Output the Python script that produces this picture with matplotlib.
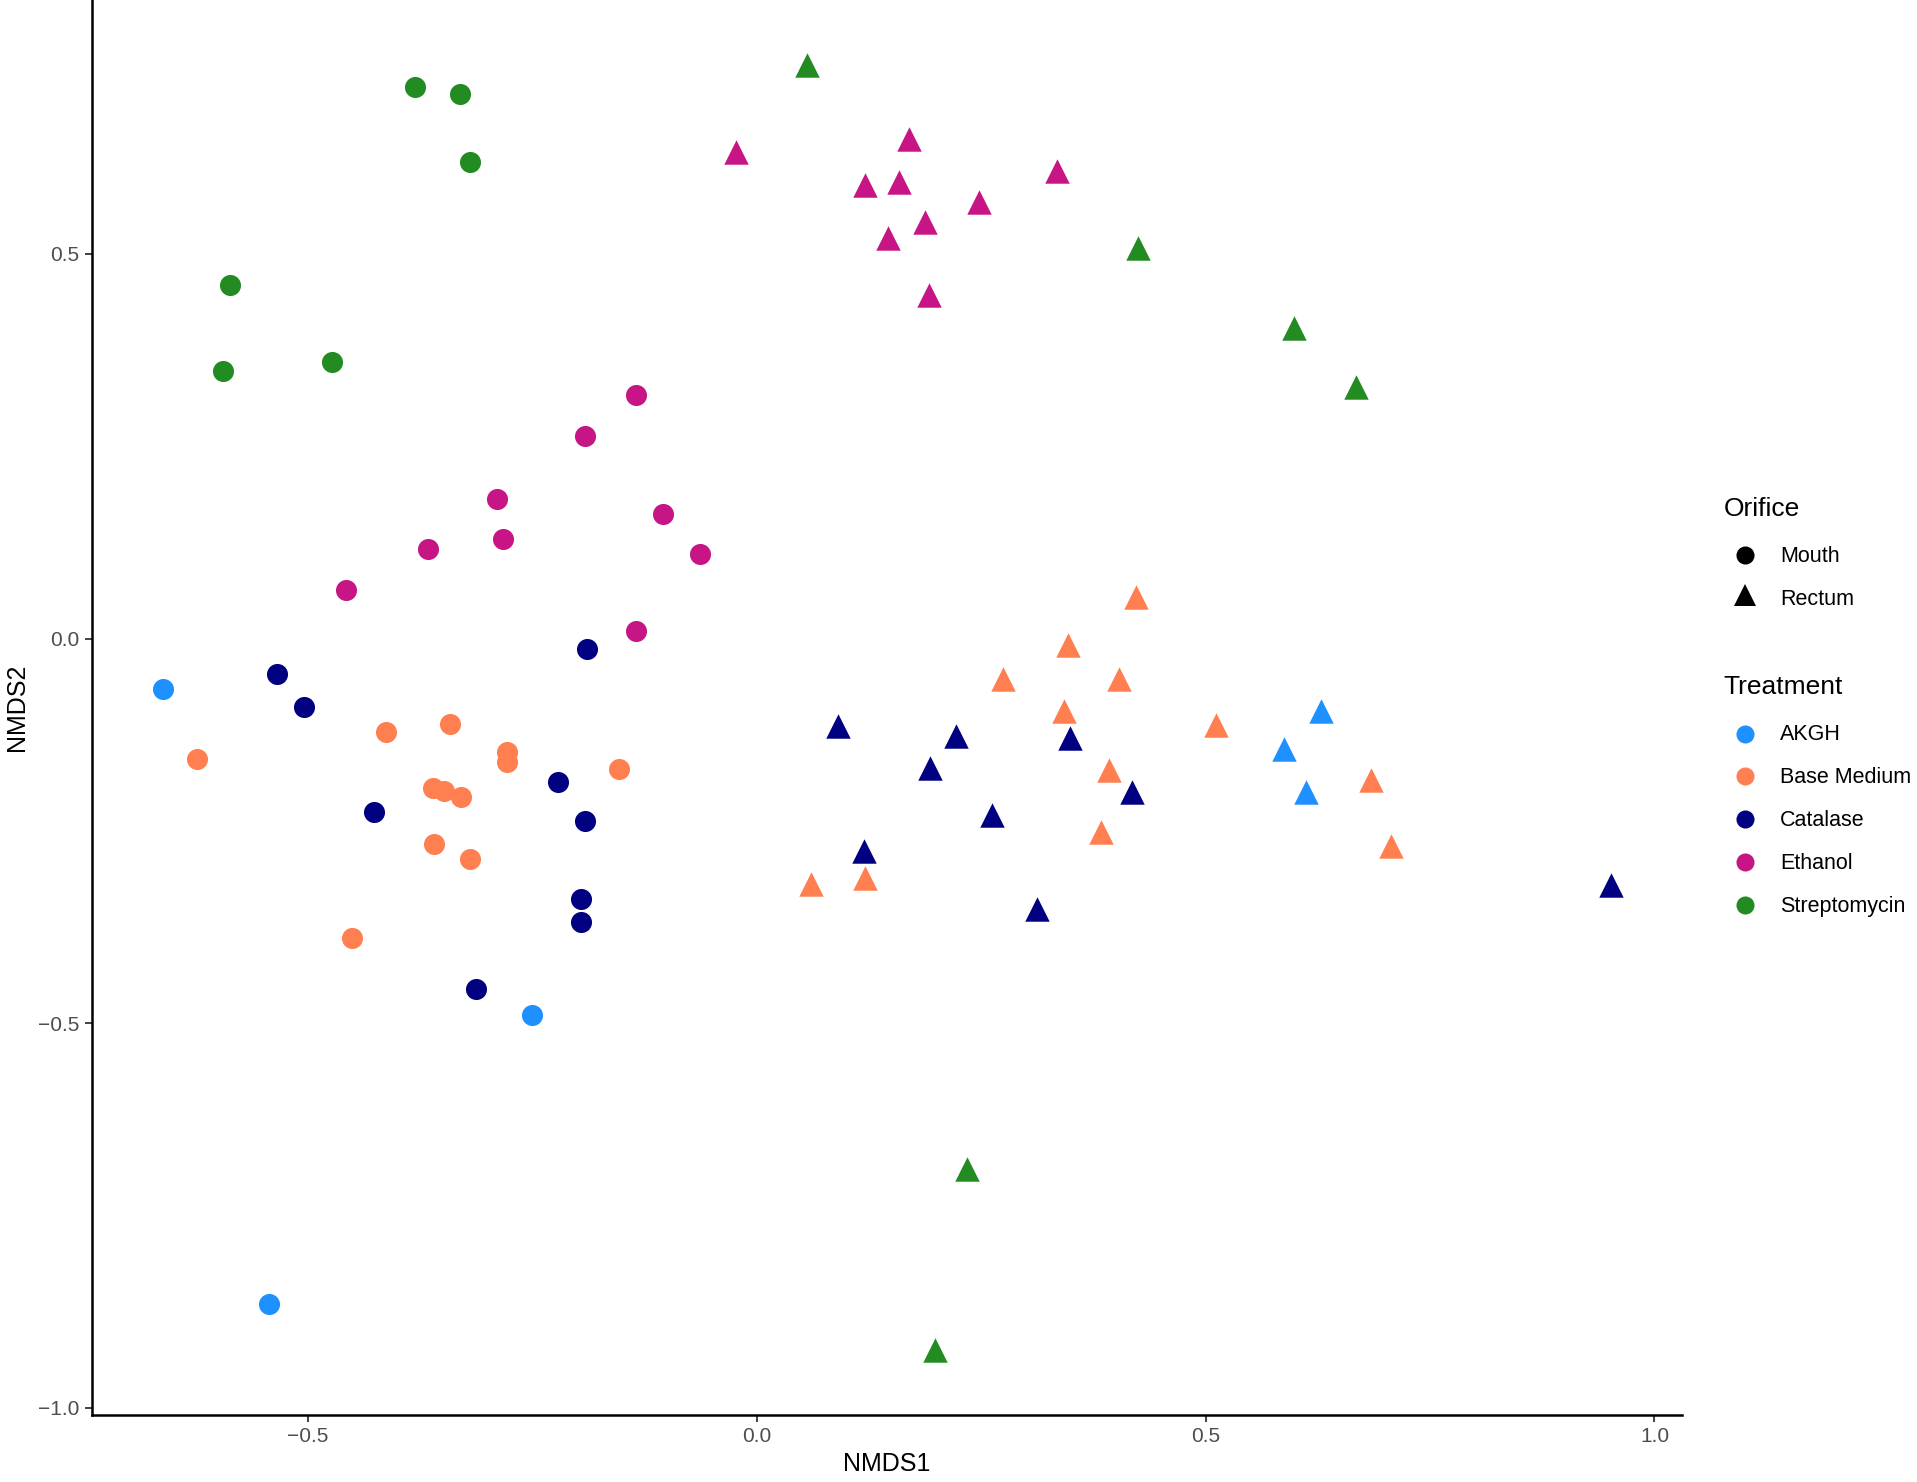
import matplotlib
matplotlib.use("Agg")
import matplotlib.pyplot as plt
from matplotlib.lines import Line2D

plt.rcParams['font.family'] = ['Liberation Sans', 'DejaVu Sans']

treatments = ["AKGH", "Base Medium", "Catalase", "Ethanol", "Streptomycin"]
colors = {"AKGH": "#1E90FF", "Base Medium": "#FF7F50", "Catalase": "#000080",
          "Ethanol": "#C71585", "Streptomycin": "#228B22"}

# Mouth (circles)
mouth_akgh_x = [-0.662, -0.251, -0.544]
mouth_akgh_y = [-0.065, -0.489, -0.865]
mouth_base_x = [-0.624, -0.413, -0.342, -0.278, -0.278, -0.361, -0.349, -0.330, -0.154, -0.360, -0.320, -0.451]
mouth_base_y = [-0.157, -0.121, -0.111, -0.148, -0.160, -0.194, -0.198, -0.206, -0.170, -0.267, -0.286, -0.389]
mouth_cat_x = [-0.189, -0.535, -0.504, -0.221, -0.426, -0.191, -0.196, -0.196, -0.313]
mouth_cat_y = [-0.014, -0.046, -0.089, -0.186, -0.225, -0.237, -0.338, -0.368, -0.456]
mouth_eth_x = [-0.135, -0.191, -0.290, -0.105, -0.283, -0.366, -0.063, -0.458, -0.135]
mouth_eth_y = [0.317, 0.263, 0.181, 0.162, 0.129, 0.117, 0.110, 0.063, 0.010]
mouth_str_x = [-0.381, -0.331, -0.320, -0.587, -0.595, -0.473]
mouth_str_y = [0.717, 0.708, 0.619, 0.459, 0.348, 0.359]

# Rectum (triangles)
rect_akgh_x = [0.628, 0.587, 0.612]
rect_akgh_y = [-0.094, -0.144, -0.200]
rect_base_x = [0.422, 0.347, 0.274, 0.403, 0.342, 0.511, 0.392, 0.684, 0.383, 0.706, 0.060, 0.121]
rect_base_y = [0.054, -0.008, -0.052, -0.052, -0.094, -0.113, -0.171, -0.184, -0.252, -0.270, -0.319, -0.311]
rect_cat_x = [0.090, 0.222, 0.349, 0.193, 0.418, 0.262, 0.119, 0.312, 0.952]
rect_cat_y = [-0.114, -0.127, -0.129, -0.168, -0.200, -0.229, -0.276, -0.351, -0.321]
rect_eth_x = [-0.023, 0.170, 0.120, 0.158, 0.334, 0.247, 0.187, 0.146, 0.192]
rect_eth_y = [0.633, 0.649, 0.590, 0.594, 0.608, 0.567, 0.541, 0.521, 0.446]
rect_str_x = [0.056, 0.425, 0.598, 0.668, 0.234, 0.198]
rect_str_y = [0.746, 0.508, 0.403, 0.327, -0.689, -0.925]

mouth = {"AKGH": (mouth_akgh_x, mouth_akgh_y), "Base Medium": (mouth_base_x, mouth_base_y),
         "Catalase": (mouth_cat_x, mouth_cat_y), "Ethanol": (mouth_eth_x, mouth_eth_y),
         "Streptomycin": (mouth_str_x, mouth_str_y)}
rectum = {"AKGH": (rect_akgh_x, rect_akgh_y), "Base Medium": (rect_base_x, rect_base_y),
          "Catalase": (rect_cat_x, rect_cat_y), "Ethanol": (rect_eth_x, rect_eth_y),
          "Streptomycin": (rect_str_x, rect_str_y)}

W, H = 1568, 1212
fig = plt.figure(figsize=(19.17, 14.82), dpi=100)
ax = fig.add_axes([75 / W, 1 - 1157 / H, (1376 - 75) / W, 1157 / H])

for t in treatments:
    x, y = mouth[t]
    ax.scatter(x, y, s=230, marker='o', color=colors[t], linewidths=0, zorder=3)
    x, y = rectum[t]
    ax.scatter(x, y, s=310, marker='^', color=colors[t], linewidths=0, zorder=3)

ax.set_xlim(-0.741, 1.031)
ax.set_ylim(-1.009, 0.830)
ax.set_xticks([-0.5, 0.0, 0.5, 1.0])
ax.set_xticklabels(["\u22120.5", "0.0", "0.5", "1.0"])
ax.set_yticks([-1.0, -0.5, 0.0, 0.5])
ax.set_yticklabels(["\u22121.0", "\u22120.5", "0.0", "0.5"])
for s in ["top", "right"]:
    ax.spines[s].set_visible(False)
for s in ["left", "bottom"]:
    ax.spines[s].set_linewidth(1.8)
ax.tick_params(axis='both', length=5, width=1.3, color='#333333', labelcolor='#4D4D4D',
               labelsize=15, pad=4)
ax.set_xlabel("NMDS1", fontsize=18, labelpad=4)
ax.set_ylabel("NMDS2", fontsize=18, labelpad=6)

# Legends (manual)
def fx(px):
    return px / W

def fy(py):
    return 1 - py / H

fig.text(fx(1410), fy(416), "Orifice", fontsize=19, va='center', ha='left')
fig.add_artist(Line2D([fx(1427)], [fy(454)], marker='o', markersize=13, color='black',
                      markeredgewidth=0, linestyle='none', transform=fig.transFigure))
fig.text(fx(1456), fy(455), "Mouth", fontsize=15.5, va='center', ha='left')
fig.add_artist(Line2D([fx(1427)], [fy(487)], marker='^', markersize=16, color='black',
                      markeredgewidth=0, linestyle='none', transform=fig.transFigure))
fig.text(fx(1456), fy(490), "Rectum", fontsize=15.5, va='center', ha='left')

fig.text(fx(1410), fy(562), "Treatment", fontsize=19, va='center', ha='left')
ys = [600, 635, 670, 705, 740]
for t, yy in zip(treatments, ys):
    fig.add_artist(Line2D([fx(1427)], [fy(yy)], marker='o', markersize=13, color=colors[t],
                          markeredgewidth=0, linestyle='none', transform=fig.transFigure))
    fig.text(fx(1456), fy(yy + 1), t, fontsize=15.5, va='center', ha='left')

fig.savefig("out.png", dpi=100, facecolor='white')
